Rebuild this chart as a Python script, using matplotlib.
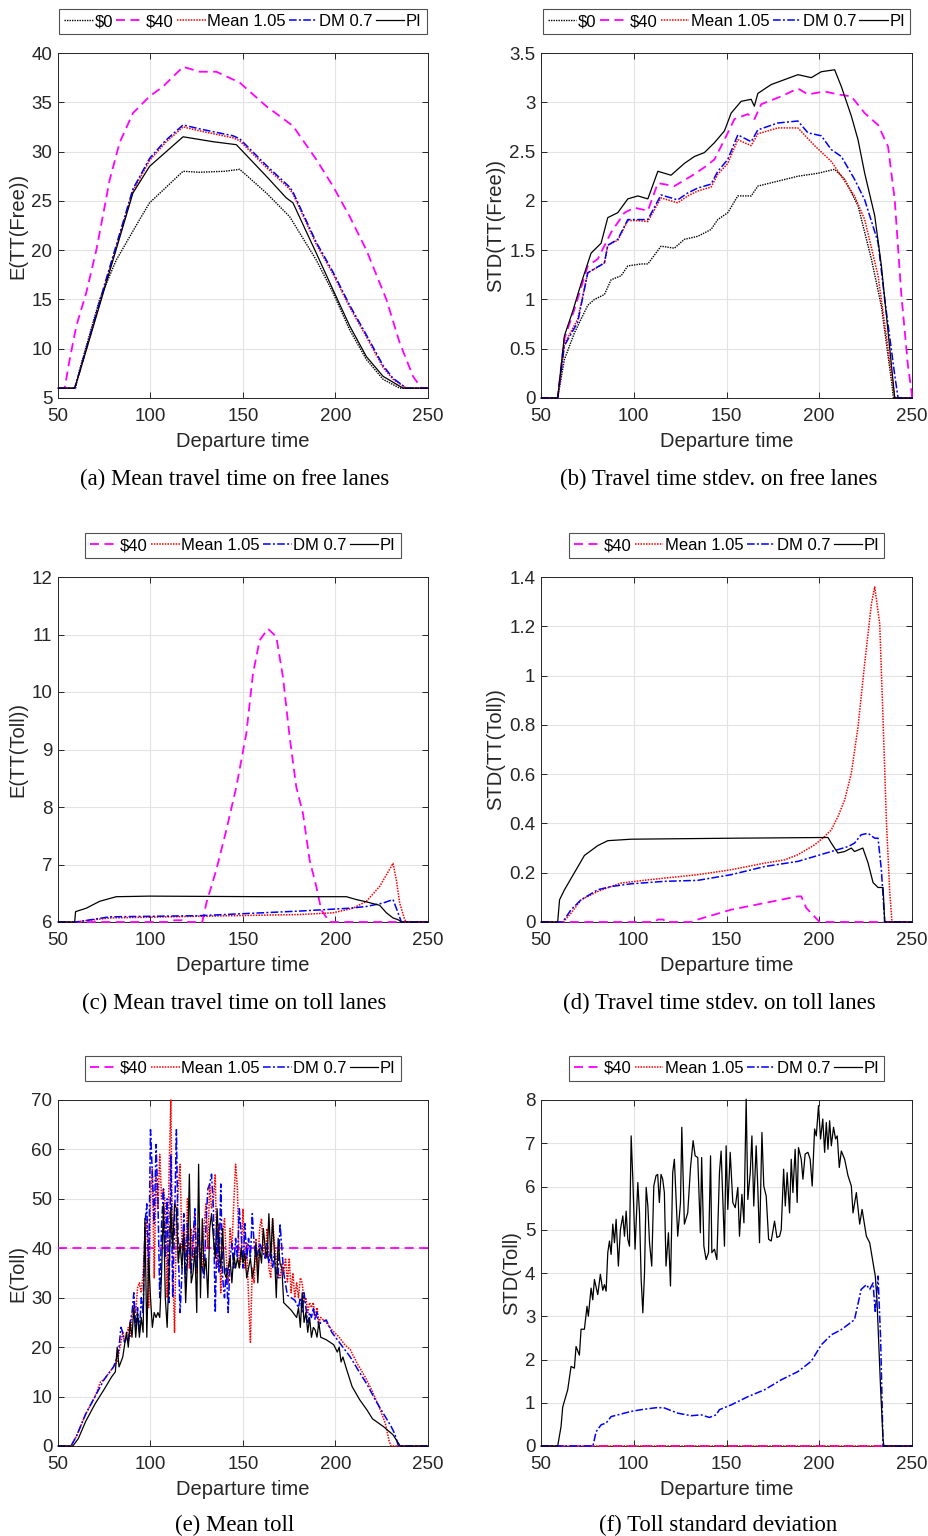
import matplotlib.pyplot as plt
from matplotlib.ticker import FormatStrFormatter

# Размер рисунка в пикселях
W = 929
H = 1536

# (a) E(TT(Free))
a_zero_x = [50, 59.5, 61.7, 72.5, 81.5, 94.1, 99.5, 117.6, 126.6, 140, 148.2, 162.6, 175.2, 189.6, 198.6, 207.7, 216.7, 225.7, 234.7, 250]
a_zero_y = [6, 6, 7.9, 15, 19.0, 23.1, 24.8, 28.0, 27.9, 28.0, 28.2, 25.8, 23.4, 19.0, 15.7, 11.9, 8.9, 6.9, 6.0, 6]
a_forty_x = [50, 53.6, 56.3, 59.9, 65.3, 70.7, 75.2, 77.9, 83.3, 90.5, 99.5, 106.8, 117.6, 126.6, 135.6, 148.2, 162.6, 177, 189.6, 198.6, 207.7, 216.7, 227.5, 234.7, 241.9, 246.4, 250]
a_forty_y = [6, 6, 8.9, 12.3, 15.7, 20, 24.4, 27.1, 30.9, 33.9, 35.6, 36.6, 38.6, 38.1, 38.1, 37.0, 34.6, 32.6, 29.2, 26.5, 23.4, 20, 15, 10.6, 7.2, 6, 6]
a_mean_x = [50, 59, 62, 75, 90.5, 94, 99.5, 108, 117.6, 126.6, 144.6, 148.2, 162.6, 175.2, 177, 189.6, 198.6, 207.7, 216.7, 225.7, 231.1, 238.3, 250]
a_mean_y = [6, 6, 7.8, 16.2, 26.0, 27.2, 29.1, 30.9, 32.5, 32.1, 31.4, 31.1, 28.4, 26.2, 25.7, 20.6, 17.6, 14.2, 11.2, 8.1, 6.9, 6.0, 6]
a_dm_x = [50, 59, 62, 75, 90.5, 94, 99.5, 108, 117.6, 126.6, 144.6, 148.2, 162.6, 175.2, 177, 189.6, 198.6, 207.7, 216.7, 225.7, 231.1, 238.3, 250]
a_dm_y = [6, 6, 7.9, 16.4, 26.2, 27.4, 29.3, 31.1, 32.7, 32.3, 31.6, 31.3, 28.6, 26.4, 25.9, 20.8, 17.8, 14.4, 11.4, 8.3, 7.0, 6.0, 6]
a_pi_x = [50, 59, 62, 75, 90.5, 99.5, 117.6, 133.8, 146.4, 162.6, 173.4, 177, 189.6, 198.6, 207.7, 216.7, 225.7, 236.5, 250]
a_pi_y = [6, 6, 7.8, 16.0, 25.8, 28.5, 31.5, 31.0, 30.7, 27.5, 25.3, 24.8, 19.7, 16.0, 12.3, 9.2, 7.2, 6.0, 6]

# (b) STD(TT(Free))
b_zero_x = [50, 59, 62.6, 68, 75.2, 78.8, 84.2, 87.8, 93.2, 96.8, 104, 107.6, 114.7, 121.9, 127.3, 134.5, 141.7, 145.3, 150.7, 156.1, 163.3, 166.9, 177.7, 188.5, 199.3, 208.3, 213.7, 220.9, 228.1, 233.5, 239, 240, 250]
b_zero_y = [0, 0, 0.39, 0.66, 0.94, 1.0, 1.05, 1.2, 1.24, 1.34, 1.36, 1.36, 1.54, 1.52, 1.61, 1.64, 1.71, 1.81, 1.88, 2.05, 2.05, 2.15, 2.2, 2.25, 2.28, 2.32, 2.22, 1.95, 1.41, 0.93, 0.16, 0, 0]
b_forty_x = [50, 59, 62.6, 68, 75.2, 80.6, 87.8, 95, 100.4, 107.6, 113, 121.9, 130.9, 138.1, 143.5, 148.9, 154.3, 161.5, 165.1, 168.7, 179.5, 188.5, 193.9, 202.9, 210, 217.3, 224.5, 231.7, 237.1, 240.7, 244.2, 247.8, 249.8, 250]
b_forty_y = [0, 0, 0.6, 0.9, 1.34, 1.41, 1.68, 1.88, 1.93, 1.9, 2.18, 2.15, 2.25, 2.34, 2.42, 2.62, 2.83, 2.88, 2.83, 2.98, 3.06, 3.14, 3.08, 3.11, 3.08, 3.06, 2.89, 2.77, 2.55, 2.01, 1.06, 0.33, 0.06, 0]
b_mean_x = [50, 59, 62.6, 69.8, 75.2, 84.2, 86, 91.4, 96.8, 102.2, 107.6, 114.7, 123.7, 129.1, 134.5, 141.7, 145.3, 150.7, 156.1, 163.3, 166.9, 177.7, 188.5, 197.5, 206.5, 211.9, 219, 224.5, 231.7, 237.1, 240.7, 250]
b_mean_y = [0, 0, 0.55, 0.8, 1.27, 1.37, 1.55, 1.6, 1.8, 1.8, 1.79, 2.03, 1.98, 2.05, 2.1, 2.14, 2.27, 2.38, 2.62, 2.56, 2.68, 2.74, 2.74, 2.56, 2.4, 2.25, 2.05, 1.81, 1.24, 0.5, 0, 0]
b_dm_x = [50, 59, 62.6, 69.8, 75.2, 84.2, 86, 91.4, 96.8, 102.2, 107.6, 114.7, 123.7, 129.1, 134.5, 141.7, 145.3, 150.7, 156.1, 163.3, 166.9, 177.7, 188.5, 193.9, 201.1, 206.5, 211.9, 219, 224.5, 231.7, 235.3, 240.7, 242.5, 250]
b_dm_y = [0, 0, 0.53, 0.77, 1.27, 1.37, 1.55, 1.61, 1.81, 1.81, 1.81, 2.06, 2.01, 2.08, 2.13, 2.17, 2.3, 2.42, 2.67, 2.6, 2.72, 2.79, 2.81, 2.69, 2.66, 2.52, 2.45, 2.22, 2.01, 1.58, 1.0, 0.23, 0, 0]
b_pi_x = [50, 59, 62.6, 67.1, 71.6, 77, 82.4, 86, 91.4, 96.8, 102.2, 107.6, 113, 120.1, 127.3, 132.7, 138.1, 143.5, 148.9, 152.5, 157.9, 163.3, 165, 166.9, 174.1, 181.3, 188.5, 195.7, 201.1, 208.3, 211.9, 217.3, 220.9, 224.5, 229.9, 233.5, 237.1, 240.7, 250]
b_pi_y = [0, 0, 0.63, 0.88, 1.16, 1.47, 1.57, 1.83, 1.88, 2.02, 2.05, 2.02, 2.3, 2.26, 2.38, 2.45, 2.49, 2.59, 2.71, 2.89, 3.01, 3.03, 2.96, 3.09, 3.18, 3.23, 3.28, 3.25, 3.31, 3.33, 3.16, 2.86, 2.62, 2.28, 1.85, 1.34, 0.67, 0, 0]

# (c) E(TT(Toll))
c_forty_x = [50, 110, 113, 117, 118, 128, 130.2, 135.6, 141, 146.4, 151.8, 155.4, 159, 163.5, 168, 171.6, 175.2, 178.8, 182.4, 186, 189.6, 192.3, 196.8, 250]
c_forty_y = [6, 6, 6.03, 6.03, 6, 6, 6.33, 6.91, 7.6, 8.35, 9.28, 10.32, 10.9, 11.1, 10.96, 10.26, 9.22, 8.35, 7.89, 7.08, 6.62, 6.21, 6, 6]
c_mean_x = [50, 59, 77.9, 126.6, 180.6, 198.6, 209.5, 216.7, 223.9, 227.5, 231.1, 232.9, 234.7, 237.4, 238.3, 250]
c_mean_y = [6, 6, 6.07, 6.1, 6.13, 6.16, 6.24, 6.36, 6.62, 6.82, 7.02, 6.73, 6.33, 6.04, 6, 6]
c_dm_x = [50, 59.9, 77.9, 126.6, 180.6, 207.7, 216.7, 225.7, 231.1, 233.8, 235.6, 250]
c_dm_y = [6, 6, 6.09, 6.11, 6.19, 6.24, 6.27, 6.33, 6.39, 6.16, 6, 6]
c_pi_x = [50, 59, 59.5, 65.3, 72.5, 81.5, 99.5, 162.6, 205.9, 211.3, 216.7, 223.9, 227.5, 231.1, 233.8, 235.6, 250]
c_pi_y = [6, 6, 6.18, 6.24, 6.36, 6.44, 6.45, 6.44, 6.44, 6.39, 6.35, 6.29, 6.16, 6.07, 6.04, 6, 6]

# (d) STD(TT(Toll))
d_forty_x = [50, 111, 113, 116, 117, 130.9, 134.5, 152.5, 170.5, 188.5, 190.3, 193, 200.2, 250]
d_forty_y = [0, 0, 0.01, 0.01, 0, 0, 0.01, 0.05, 0.077, 0.104, 0.104, 0.057, 0, 0]
d_mean_x = [50, 62, 66.2, 71.6, 80.6, 87.8, 93.2, 107.6, 116.5, 134.5, 152.5, 170.5, 181.3, 188.5, 197.5, 202.9, 206.5, 210.1, 213.7, 217.3, 220.9, 224.5, 228.1, 229.9, 232.6, 234.4, 236.2, 238, 239.2, 250]
d_mean_y = [0, 0, 0.036, 0.09, 0.124, 0.144, 0.158, 0.171, 0.178, 0.192, 0.212, 0.239, 0.252, 0.273, 0.313, 0.347, 0.374, 0.428, 0.495, 0.604, 0.792, 1.05, 1.29, 1.36, 1.21, 0.82, 0.41, 0.12, 0, 0]
d_dm_x = [50, 61.7, 66.2, 71.6, 80.6, 87.8, 98.6, 116.5, 134.5, 152.5, 170.5, 188.5, 197.5, 206.5, 215.5, 219, 222.6, 226.3, 229.9, 231.7, 233.5, 235.3, 250]
d_dm_y = [0, 0, 0.05, 0.09, 0.131, 0.144, 0.155, 0.165, 0.169, 0.192, 0.225, 0.246, 0.266, 0.286, 0.306, 0.32, 0.354, 0.36, 0.34, 0.34, 0.21, 0, 0]
d_pi_x = [50, 59, 60, 62.6, 68, 73.4, 80.6, 86, 98.6, 152.5, 204.7, 206.5, 210, 213.7, 217.3, 219, 223.5, 226.3, 229, 231.7, 234.4, 235.3, 250]
d_pi_y = [0, 0, 0.09, 0.13, 0.2, 0.27, 0.31, 0.33, 0.336, 0.34, 0.343, 0.32, 0.28, 0.286, 0.3, 0.286, 0.3, 0.24, 0.16, 0.14, 0.14, 0, 0]

# (e) E(Toll)
e_forty_x = [50, 250]
e_forty_y = [40, 40]
e_mean_x = [50, 57, 60, 65, 70, 73, 75, 80, 82, 83, 84, 85, 86, 87, 88, 89, 90, 91, 92, 93, 94, 95, 96, 97, 98, 99,
            100, 101, 102, 103, 104, 105, 106, 107, 108, 109, 110, 111, 112, 113, 114, 115, 116, 117, 118, 119,
            120, 121, 122, 123, 124, 125, 126, 127, 128, 129, 130, 131, 132, 133, 134, 135, 136, 137, 138, 139,
            140, 141, 142, 143, 144, 145, 146, 147, 148, 149, 150, 151, 152, 153, 154, 155, 156, 157, 158, 159,
            160, 161, 162, 163, 164, 165, 166, 167, 168, 169, 170, 171, 172, 173, 174, 175, 176, 177, 178, 179,
            180, 181, 182, 183, 184, 185, 186, 187, 188, 189, 190, 191, 192, 195, 198, 202, 205, 208, 212, 216,
            220, 224, 227, 229, 230, 250]
e_mean_y = [0, 0, 2, 6.5, 10, 13, 13.5, 16, 17, 19, 21, 23, 21, 22, 24, 22, 26, 29, 27, 32, 33, 31, 35, 42, 46, 28,
            50, 56, 34, 55, 48, 59, 50, 52, 49, 30, 55, 70, 36, 23, 45, 52, 57, 40, 44, 38,
            50, 36, 44, 38, 47, 35, 42, 38, 36, 45, 49, 40, 53, 48, 50, 55, 36, 45, 31, 43,
            46, 38, 33, 44, 40, 49, 57, 52, 36, 38, 48, 36, 41, 30, 21, 36, 33, 42, 36, 44,
            46, 40, 38, 44, 36, 34, 46, 41, 38, 35, 34, 37, 35, 38, 33, 38, 31, 35, 30, 33,
            30, 34, 33, 29, 30, 27, 29, 28, 29, 26, 28, 25, 26, 25, 23.5, 22, 20.5, 19.5, 16.5, 14,
            11, 7.5, 4.5, 1, 0, 0]
e_dm_x = [50, 57, 60, 65, 70, 75, 80, 82, 83, 84, 85, 86, 87, 88, 89, 90, 91, 92, 93, 94, 95, 96, 97, 98, 99,
          100, 101, 102, 103, 104, 105, 106, 107, 108, 109, 110, 111, 112, 113, 114, 115, 116, 117, 118, 119,
          120, 121, 122, 123, 124, 125, 126, 127, 128, 129, 130, 131, 132, 133, 134, 135, 136, 137, 138, 139,
          140, 141, 142, 143, 144, 145, 146, 147, 148, 149, 150, 151, 152, 153, 154, 155, 156, 157, 158, 159,
          160, 161, 162, 163, 164, 165, 166, 167, 168, 169, 170, 171, 172, 174, 178, 180, 181, 182, 183, 184,
          185, 186, 187, 188, 189, 190, 191, 192, 195, 198, 202, 205, 208, 212, 217, 222, 226, 230, 232, 234, 250]
e_dm_y = [0, 0, 2, 6.5, 10, 13.5, 16, 18, 20, 24, 23, 21, 22, 21, 25, 27, 31, 24, 28, 23, 30, 27, 45, 49, 35,
          64, 55, 45, 61, 50, 30, 45, 52, 38, 50, 29, 59, 30, 45, 64, 40, 27, 35, 47, 33,
          45, 40, 35, 42, 48, 36, 44, 38, 36, 34, 45, 52, 53, 55, 48, 27, 44, 35, 53, 34,
          30, 36, 27, 38, 41, 36, 42, 38, 48, 43, 36, 45, 38, 42, 38, 47, 41, 38, 39, 41,
          40, 39, 38, 41, 37, 40, 36, 39, 35, 34, 45, 40, 35, 30.5, 29.5, 28, 30, 27, 31, 28,
          25, 27, 26, 28, 25.5, 27, 24, 25, 25.5, 23, 21, 19.5, 18, 15.5, 12.5, 9, 6.5, 4, 2.5, 0, 0]
e_pi_x = [50, 58, 61, 65, 70, 75, 79, 81, 82, 83, 84, 85, 86, 87, 88, 89, 90, 91, 92, 93, 94, 95, 96, 97, 98, 99,
          100, 101, 102, 103, 104, 105, 106, 107, 108, 109, 110, 111, 112, 113, 114, 115, 116, 117, 118, 119,
          120, 121, 122, 123, 124, 125, 126, 127, 128, 129, 130, 131, 132, 133, 134, 135, 136, 137, 138, 139,
          140, 141, 142, 143, 144, 145, 146, 147, 148, 149, 150, 151, 152, 153, 154, 155, 156, 157, 158, 159,
          160, 161, 162, 163, 164, 165, 166, 167, 168, 169, 170, 171, 172, 176, 179, 180, 181, 182, 183, 184,
          185, 186, 187, 188, 189, 190, 191, 192, 195, 199, 201, 202, 203, 204, 206, 209, 213, 217, 220, 226,
          231, 235, 250]
e_pi_y = [0, 0, 1.5, 5, 8.5, 11.5, 14, 15, 20, 16, 17, 18, 20.5, 23, 20, 25, 22, 28, 22, 27, 22, 26, 23, 46, 22, 38,
          30, 24, 27, 26, 27, 26, 35, 49, 30, 24, 35, 48, 40, 49, 48, 37, 41, 36, 43, 29,
          38, 55, 33, 35, 40, 27, 57, 30, 46, 35, 38, 30, 44, 47, 42, 38, 48, 40, 36, 44,
          35, 34, 36, 38, 33, 39, 36, 38, 36, 40, 37, 39, 34, 36, 38, 34, 36, 41, 33, 40,
          37, 44, 40, 38, 47, 38, 46, 39, 30, 42, 37, 36, 29, 27.5, 26, 28, 24, 31, 25, 27,
          23, 26, 22, 24, 23.5, 22, 25, 22, 21.5, 20.5, 19, 20, 17, 18, 15.5, 12, 9.4, 7.3, 5.5, 3.9,
          2.3, 0, 0]

# (f) STD(Toll)
f_forty_x = [50, 250]
f_forty_y = [0, 0]
f_mean_x = [50, 250]
f_mean_y = [0, 0]
f_dm_x = [50, 78, 79.7, 82.4, 85.1, 87.8, 91.4, 98.6, 104, 112.9, 116.5, 123.7, 130.9, 136.3, 140.8, 144.4, 146.2,
          152.5, 161.5, 170.5, 179.5, 188.5, 195.7, 201.1, 206.5, 211.9, 219, 222.6, 225.4, 227.2, 229, 230.2,
          231.7, 233.1, 234.4, 250]
f_dm_y = [0, 0, 0.33, 0.49, 0.53, 0.68, 0.72, 0.8, 0.84, 0.89, 0.88, 0.76, 0.7, 0.72, 0.66, 0.72, 0.84,
          0.95, 1.14, 1.3, 1.53, 1.72, 1.96, 2.34, 2.57, 2.69, 2.92, 3.62, 3.73, 3.62, 3.77, 3.08,
          3.93, 2.46, 0, 0]
f_pi_x = [50, 59, 60.8, 61.7, 64.4, 66.2, 68, 68.9, 70.7, 71.6, 73.4, 74.8, 75.5, 77, 77.9, 78.8, 80.6, 82, 83.3,
          84.2, 85.1, 86, 86.9, 87.8, 88.7, 89.6, 90.5, 91.7, 92.8, 94.1, 95, 95.9, 96.8, 97.7, 98.6, 99.5,
          100.7, 102.2, 103.1, 104, 104.9, 105.8, 106.7, 107.6, 108.5, 109.7, 110.8, 112, 112.9, 113.8, 114.7,
          115.6, 116.5, 117.4, 118.7, 119.8, 121, 121.9, 123.7, 125.2, 125.9, 127.3, 129.1, 130.6, 132, 133.1,
          134.5, 135.9, 136.6, 137.8, 139, 140.3, 141.4, 142.1, 143.5, 144.8, 146.2, 147.1, 148.9, 149.8, 150.7,
          152, 153.4, 154.7, 156.1, 157, 158.3, 159.4, 160.6, 161.5, 162.8, 163.7, 164.7, 166, 166.9, 167.8,
          169.1, 170.1, 171.4, 172.7, 174.1, 175.9, 177.2, 178.6, 179.5, 180.8, 181.7, 182.7, 184, 184.9, 185.8,
          187, 188.1, 188.8, 190.3, 191.2, 192.4, 193.9, 195.1, 196.2, 197.5, 198.4, 199.6, 200.7, 201.9, 202.9,
          203.8, 204.7, 205.6, 206.5, 207.7, 208.8, 209.7, 210.8, 211.9, 213.7, 215.5, 217.3, 218.2, 220, 221.8,
          223.1, 225.4, 227.2, 229, 230.2, 231.1, 232, 233.1, 234.4, 234.9, 250]
f_pi_y = [0, 0, 0.45, 0.9, 1.3, 1.84, 1.8, 2.3, 2.1, 2.7, 2.7, 3.23, 3.0, 3.65, 3.38, 3.85, 3.5, 3.97, 3.6,
          3.73, 3.58, 4.47, 4.74, 4.43, 5.13, 4.7, 5.24, 4.16, 5.0, 5.32, 4.85, 5.43, 4.78, 4.62, 7.17, 6.17,
          4.55, 6.09, 5.39, 3.85, 3.08, 4.0, 5.98, 5.55, 4.7, 4.16, 6.01, 6.25, 6.28, 5.63, 6.28,
          6.17, 5.86, 4.16, 4.93, 3.7, 6.32, 6.63, 4.85, 5.63, 7.37, 5.13, 5.39, 6.44, 7.06, 6.71,
          6.67, 4.93, 6.67, 4.62, 4.31, 4.47, 6.71, 4.47, 4.55, 4.31, 6.32, 6.82, 4.62, 6.94, 5.47,
          6.79, 5.63, 5.51, 5.98, 4.85, 5.82, 5.16, 8.02, 5.7, 6.32, 7.17, 5.55, 6.94, 5.94, 4.7,
          7.25, 6.01, 5.78, 4.78, 4.74, 5.2, 4.82, 4.85, 5.0, 6.4, 5.55, 6.32, 5.39, 6.63, 5.86,
          6.86, 5.63, 6.9, 6.63, 6.17, 6.75, 6.79, 6.63, 6.01, 7.33, 7.17, 7.87, 7.1, 7.56, 6.79,
          7.48, 6.86, 7.52, 6.94, 7.37, 7.1, 7.17, 6.44, 6.82, 6.63, 6.25, 6.01, 5.39, 5.86, 5.13,
          5.47, 4.85, 4.7, 4.24, 3.93, 3.39, 2.46, 1.3, 0.14, 0, 0]

# Стили линий в духе MATLAB
STYLES = {
    "$0": dict(color="black", linestyle=(0, (1, 0.8)), linewidth=1.0),
    "$40": dict(color="#ff00ff", linestyle=(0, (5, 3)), linewidth=1.3),
    "Mean 1.05": dict(color="#ff0000", linestyle=(0, (1, 0.8)), linewidth=1.1),
    "DM 0.7": dict(color="#0000ff", linestyle=(0, (5, 1.5, 1.3, 1.5)), linewidth=1.1),
    "PI": dict(color="black", linestyle="-", linewidth=0.9),
}

AX_COLOR = "#262626"


def addAxes(fig, left, top, right, bottom):
    """Создает оси по пиксельным координатам."""
    return fig.add_axes([left / W, 1 - bottom / H, (right - left) / W, (bottom - top) / H])


def drawPanel(ax, series, ylim, yticks, ylabel):
    """Рисует одну панель с линиями, сеткой и легендой."""
    for name, x, y in series:
        label = name.replace("$", r"\$")
        # линии поверх рамки, как в MATLAB (значения не выходят за пределы осей)
        ax.plot(x, y, label=label, clip_on=False, zorder=3, **STYLES[name])

    ax.set_xlim(50, 250)
    ax.set_ylim(*ylim)
    ax.set_xticks([50, 100, 150, 200, 250])
    ax.set_yticks(yticks)
    ax.yaxis.set_major_formatter(FormatStrFormatter("%g"))
    ax.grid(True, color="#e3e3e3", linewidth=0.8)
    ax.set_axisbelow(True)
    ax.tick_params(direction="in", length=4, width=0.7, top=True, right=True,
                   colors=AX_COLOR, labelsize=13.5)
    ax.tick_params(axis="x", pad=7)
    ax.tick_params(axis="y", pad=4)
    for spine in ax.spines.values():
        spine.set_color(AX_COLOR)
        spine.set_linewidth(0.7)
    ax.set_xlabel("Departure time", fontsize=14.5, color=AX_COLOR, labelpad=5)
    ax.set_ylabel(ylabel, fontsize=14.5, color=AX_COLOR, labelpad=3)

    leg = ax.legend(loc="lower center", bbox_to_anchor=(0.5, 1.055), ncol=len(series),
                    fontsize=12, frameon=True, fancybox=False, handlelength=1.7,
                    handletextpad=0.1, columnspacing=0.2, borderpad=0.3, borderaxespad=0)
    leg.get_frame().set_edgecolor(AX_COLOR)
    leg.get_frame().set_linewidth(0.8)
    for text in leg.get_texts():
        text.set_color("black")


plt.rcParams["font.family"] = ["Liberation Sans", "DejaVu Sans"]

fig = plt.figure(figsize=(W / 100, H / 100), dpi=100)

ax_a = addAxes(fig, 58, 53, 428, 398)
drawPanel(ax_a, [("$0", a_zero_x, a_zero_y), ("$40", a_forty_x, a_forty_y),
                 ("Mean 1.05", a_mean_x, a_mean_y), ("DM 0.7", a_dm_x, a_dm_y),
                 ("PI", a_pi_x, a_pi_y)],
          (5, 40), range(5, 41, 5), "E(TT(Free))")

ax_b = addAxes(fig, 541, 53, 912, 398)
drawPanel(ax_b, [("$0", b_zero_x, b_zero_y), ("$40", b_forty_x, b_forty_y),
                 ("Mean 1.05", b_mean_x, b_mean_y), ("DM 0.7", b_dm_x, b_dm_y),
                 ("PI", b_pi_x, b_pi_y)],
          (0, 3.5), [0, 0.5, 1, 1.5, 2, 2.5, 3, 3.5], "STD(TT(Free))")

ax_c = addAxes(fig, 58, 577, 428, 922)
drawPanel(ax_c, [("$40", c_forty_x, c_forty_y), ("Mean 1.05", c_mean_x, c_mean_y),
                 ("DM 0.7", c_dm_x, c_dm_y), ("PI", c_pi_x, c_pi_y)],
          (6, 12), range(6, 13), "E(TT(Toll))")

ax_d = addAxes(fig, 541, 577, 912, 922)
drawPanel(ax_d, [("$40", d_forty_x, d_forty_y), ("Mean 1.05", d_mean_x, d_mean_y),
                 ("DM 0.7", d_dm_x, d_dm_y), ("PI", d_pi_x, d_pi_y)],
          (0, 1.4), [0, 0.2, 0.4, 0.6, 0.8, 1, 1.2, 1.4], "STD(TT(Toll))")

ax_e = addAxes(fig, 58, 1100, 428, 1446)
drawPanel(ax_e, [("$40", e_forty_x, e_forty_y), ("Mean 1.05", e_mean_x, e_mean_y),
                 ("DM 0.7", e_dm_x, e_dm_y), ("PI", e_pi_x, e_pi_y)],
          (0, 70), range(0, 71, 10), "E(Toll)")

ax_f = addAxes(fig, 541, 1100, 912, 1446)
drawPanel(ax_f, [("$40", f_forty_x, f_forty_y), ("Mean 1.05", f_mean_x, f_mean_y),
                 ("DM 0.7", f_dm_x, f_dm_y), ("PI", f_pi_x, f_pi_y)],
          (0, 8), range(0, 9), "STD(Toll)")

# Подписи под панелями
captions = [
    (234.5, 479, "(a) Mean travel time on free lanes"),
    (718.5, 479, "(b) Travel time stdev. on free lanes"),
    (234.5, 1003, "(c) Mean travel time on toll lanes"),
    (719, 1003, "(d) Travel time stdev. on toll lanes"),
    (234.5, 1525, "(e) Mean toll"),
    (718, 1525, "(f) Toll standard deviation"),
]
for cx, cy, text in captions:
    fig.text(cx / W, 1 - cy / H, text, ha="center", va="center",
             fontsize=16.4, family=["Liberation Serif", "DejaVu Serif"])

fig.savefig("out.png", dpi=100)
